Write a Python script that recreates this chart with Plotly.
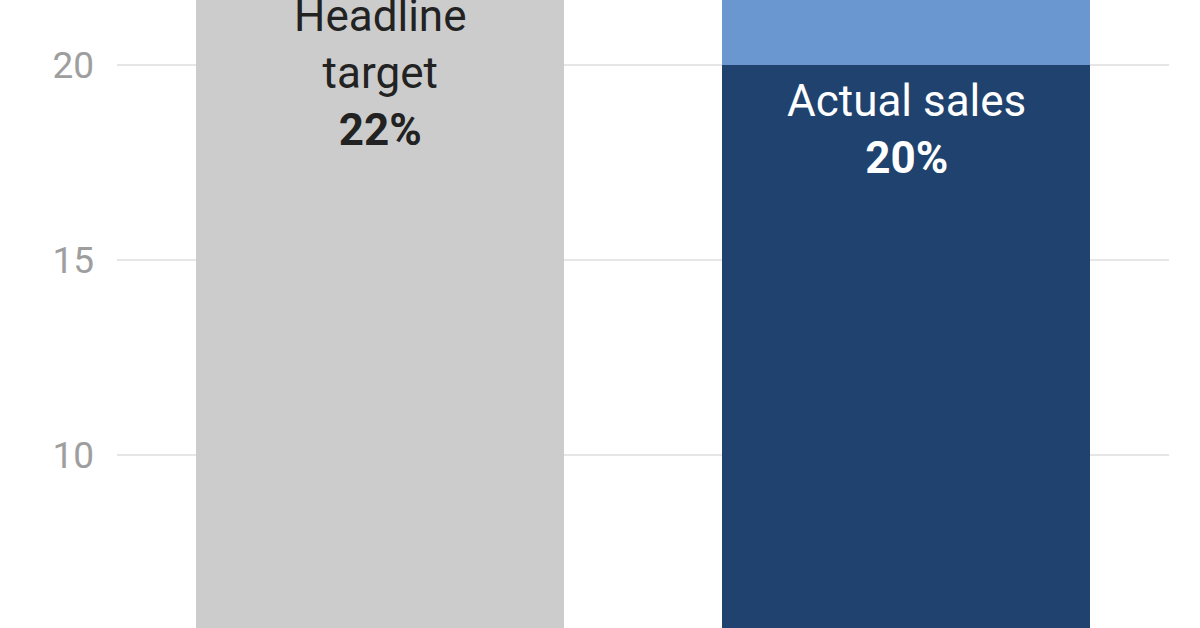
import plotly.graph_objects as go

categories = ["Headline target", "Actual sales"]
target_values = [22, None]
actual_values = [None, 20]
gap_values = [None, 2]
tick_values = [10, 15, 20]
tick_labels = ["10", "15", "20"]

FONT = "Roboto"
Y_RANGE = [5.564, 21.667]
PX_PER_UNIT = 628 / (Y_RANGE[1] - Y_RANGE[0])

fig = go.Figure()
fig.add_trace(go.Bar(x=[0, 1], y=target_values, marker=dict(color="#cccccc", line=dict(width=0)),
                     width=0.7, hoverinfo="skip"))
fig.add_trace(go.Bar(x=[0, 1], y=actual_values, marker=dict(color="#1f426f", line=dict(width=0)),
                     width=0.7, hoverinfo="skip"))
fig.add_trace(go.Bar(x=[0, 1], y=gap_values, marker=dict(color="#6a97cf", line=dict(width=0)),
                     width=0.7, hoverinfo="skip"))

# the target bar top lies above the visible range; anchor label inside range and shift up
anchor_y = 21.6
fig.add_annotation(x=0, y=anchor_y, xref="x", yref="y",
                   text="Headline<br>target<br><b>22%</b>", showarrow=False,
                   yanchor="top", yshift=-1 + (target_values[0] - anchor_y) * PX_PER_UNIT,
                   font=dict(family=FONT, size=44, color="#222222"))
fig.add_annotation(x=1, y=actual_values[1], xref="x", yref="y",
                   text="Actual sales<br><b>20%</b>", showarrow=False,
                   yanchor="top", yshift=-8,
                   font=dict(family=FONT, size=44, color="#ffffff"))

fig.update_layout(
    width=1200, height=628,
    barmode="stack",
    bargap=0.3,
    showlegend=False,
    plot_bgcolor="#ffffff",
    paper_bgcolor="#ffffff",
    margin=dict(l=117, r=31, t=0, b=0),
    font=dict(family=FONT),
    xaxis=dict(range=[-0.5, 1.5], showticklabels=False, showgrid=False, zeroline=False,
               showline=False, fixedrange=True),
    yaxis=dict(range=Y_RANGE, tickvals=tick_values, ticktext=tick_labels,
               showgrid=True, gridcolor="#e6e6e6", gridwidth=2, zeroline=False,
               showline=False, ticklabelstandoff=22, fixedrange=True,
               tickfont=dict(family=FONT, size=37, color="#9e9e9e")),
)

fig.write_html("out.html", config={"displayModeBar": False},
               post_script="document.body.style.margin='0';document.body.style.overflow='hidden';")
